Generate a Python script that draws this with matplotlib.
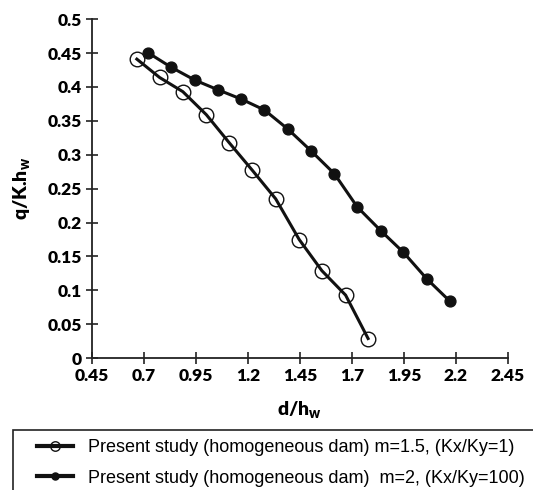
import numpy as np
import matplotlib
matplotlib.use('Agg')
import matplotlib.pyplot as plt
from matplotlib.patches import Rectangle

plt.rcParams['font.family'] = ['Lato', 'DejaVu Sans']
plt.rcParams['mathtext.default'] = 'regular'

# m=1.5, Kx/Ky=1 (open circles)
d1 = [0.667, 0.776, 0.888, 1.001, 1.110, 1.222, 1.334, 1.447, 1.556, 1.670, 1.778]
q1 = [0.441, 0.414, 0.393, 0.359, 0.318, 0.277, 0.235, 0.175, 0.129, 0.093, 0.029]

# m=2, Kx/Ky=100 (filled circles)
d2 = [0.723, 0.832, 0.946, 1.055, 1.169, 1.280, 1.392, 1.503, 1.616, 1.726, 1.839, 1.948, 2.060, 2.171]
q2 = [0.450, 0.429, 0.410, 0.396, 0.382, 0.366, 0.338, 0.306, 0.272, 0.223, 0.188, 0.156, 0.117, 0.084]

xticks = [0.45, 0.7, 0.95, 1.2, 1.45, 1.7, 1.95, 2.2, 2.45]
xticklabels = ['0.45', '0.7', '0.95', '1.2', '1.45', '1.7', '1.95', '2.2', '2.45']
yticks = [0, 0.05, 0.1, 0.15, 0.2, 0.25, 0.3, 0.35, 0.4, 0.45, 0.5]
yticklabels = ['0', '0.05', '0.1', '0.15', '0.2', '0.25', '0.3', '0.35', '0.4', '0.45', '0.5']

labels = ['Present study (homogeneous dam) m=1.5, (Kx/Ky=1)',
          'Present study (homogeneous dam)  m=2, (Kx/Ky=100)']

fig = plt.figure(figsize=(5.33, 4.9), dpi=100)
ax = fig.add_axes([0.172, 0.269, 0.781, 0.692])

l1, = ax.plot(d1, q1, color='#111111', lw=2.2, marker='o', ms=10.5,
              mfc='none', mec='#111111', mew=1.0)
l2, = ax.plot(d2, q2, color='#111111', lw=2.2, marker='o', ms=7.8,
              mfc='#111111', mec='#111111')

ax.set_xlim(0.45, 2.45)
ax.set_ylim(0, 0.5)
ax.set_xticks(xticks)
ax.set_xticklabels(xticklabels)
ax.set_yticks(yticks)
ax.set_yticklabels(yticklabels)
for lab in ax.get_xticklabels() + ax.get_yticklabels():
    lab.set_fontweight('heavy')
    lab.set_fontsize(12.5)
ax.tick_params(direction='inout', length=8, width=1.2, color='#222222', pad=3)
for s in ['top', 'right']:
    ax.spines[s].set_visible(False)
for s in ['left', 'bottom']:
    ax.spines[s].set_linewidth(1.3)
    ax.spines[s].set_color('#222222')

ax.set_xlabel('d/h$_{w}$', fontsize=14, fontweight='heavy', labelpad=11)
ax.set_ylabel('q/K.h$_{w}$', fontsize=14, fontweight='heavy', labelpad=11)

# legend box running off the right and bottom edges
fig.patches.append(Rectangle((13 / 533, -0.05), 1.0, 1 - 430 / 490 + 0.05,
                             transform=fig.transFigure, fill=False,
                             edgecolor='#222222', lw=1.2))
leg = fig.legend([l1, l2], labels, loc='upper left',
                 bbox_to_anchor=(37 / 533, 1 - 439 / 490), frameon=False,
                 prop={'family': 'Liberation Sans', 'size': 13},
                 markerscale=0.65, handlelength=2.0, handletextpad=0.8,
                 labelspacing=0.75, borderaxespad=0, borderpad=0)
for h in leg.legend_handles:
    h.set_linewidth(3)

fig.savefig('out.png', dpi=100)
